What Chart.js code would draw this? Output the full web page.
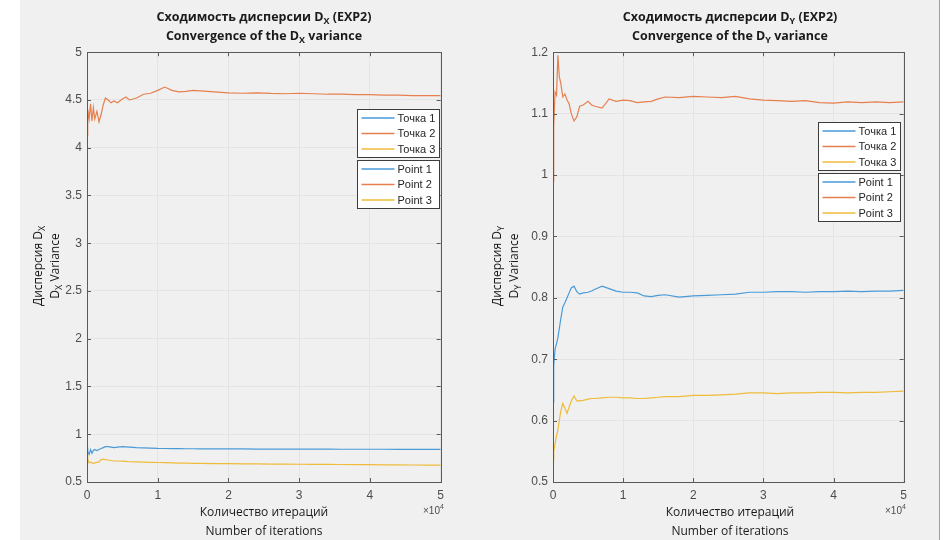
<!DOCTYPE html>
<html>
<head>
<meta charset="utf-8">
<script src="https://cdn.jsdelivr.net/npm/chart.js@4.4.1/dist/chart.umd.min.js"></script>
<style>
body{margin:0;width:949px;height:540px;overflow:hidden;background:#fff;font-family:"Open Sans","Noto Sans",sans-serif;color:#1a1a1a}
#fig{position:absolute;left:20px;top:0;width:919px;height:540px;background:#f0f0f0;border-right:1px solid #a0a0a0}
canvas{position:absolute}
.title{position:absolute;top:7px;width:360px;margin-left:-180px;text-align:center;font-weight:bold;font-size:12.5px;line-height:19px}
.xlab{position:absolute;top:502px;width:300px;margin-left:-150px;text-align:center;font-size:12px;line-height:19px}
.ylab{position:absolute;width:240px;height:36px;text-align:center;font-size:12px;line-height:17px;transform:translate(-50%,-50%) rotate(-90deg)}
.exp{position:absolute;top:505px;font-family:"Liberation Sans",sans-serif;font-size:10px;color:#4d4d4d}
sub{font-size:9px;vertical-align:baseline;position:relative;top:3px;line-height:0}
sup{font-size:7px;vertical-align:baseline;position:relative;top:-5px;line-height:0}
</style>
</head>
<body>
<div id="fig"></div>
<canvas id="chartDx" width="400" height="470" style="left:50px;top:40px"></canvas>
<canvas id="chartDy" width="400" height="470" style="left:513px;top:40px"></canvas>

<div class="title" style="left:264px">Сходимость дисперсии D<sub>X</sub> (EXP2)<br>Convergence of the D<sub>X</sub> variance</div>
<div class="title" style="left:730px">Сходимость дисперсии D<sub>Y</sub> (EXP2)<br>Convergence of the D<sub>Y</sub> variance</div>
<div class="xlab" style="left:264px">Количество итераций<br>Number of iterations</div>
<div class="xlab" style="left:730px">Количество итераций<br>Number of iterations</div>
<div class="exp" style="left:423px">×10<sup>4</sup></div>
<div class="exp" style="left:885px">×10<sup>4</sup></div>
<div class="ylab" style="left:47px;top:266px">Дисперсия D<sub>X</sub><br>D<sub>X</sub> Variance</div>
<div class="ylab" style="left:506px;top:266px">Дисперсия D<sub>Y</sub><br>D<sub>Y</sub> Variance</div>

<script>
// iteration counts where values were read
var iterations = [0, 100, 300, 500, 700, 900, 1100, 1400, 1700, 2000,
  2300, 2600, 3000, 3400, 3800, 4300, 5000, 5500, 6000, 7000,
  8000, 9000, 10000, 11000, 12000, 13000, 14000, 15000, 16000, 18000,
  20000, 22000, 24000, 26000, 28000, 30000, 32000, 34000, 36000, 38000,
  40000, 42000, 44000, 46000, 48000, 50000];

var dxPoint1 = [0.86, 0.82, 0.79, 0.84, 0.80, 0.83, 0.84, 0.83, 0.84, 0.85,
  0.86, 0.87, 0.87, 0.865, 0.86, 0.865, 0.87, 0.868, 0.865, 0.86,
  0.858, 0.855, 0.852, 0.851, 0.85, 0.849, 0.848, 0.848, 0.847, 0.847,
  0.846, 0.846, 0.845, 0.845, 0.845, 0.844, 0.844, 0.844, 0.843, 0.843,
  0.843, 0.843, 0.842, 0.842, 0.842, 0.842];
var dxPoint2 = [4.13, 4.40, 4.30, 4.46, 4.28, 4.42, 4.30, 4.38, 4.27, 4.35,
  4.45, 4.52, 4.50, 4.47, 4.49, 4.47, 4.51, 4.53, 4.50, 4.52,
  4.56, 4.57, 4.60, 4.635, 4.60, 4.585, 4.59, 4.60, 4.595, 4.585,
  4.575, 4.57, 4.575, 4.568, 4.565, 4.57, 4.565, 4.56, 4.56, 4.555,
  4.555, 4.55, 4.55, 4.545, 4.545, 4.545];
var dxPoint3 = [0.80, 0.74, 0.70, 0.71, 0.70, 0.695, 0.70, 0.705, 0.71, 0.735,
  0.74, 0.735, 0.73, 0.725, 0.72, 0.72, 0.718, 0.715, 0.712, 0.71,
  0.708, 0.706, 0.704, 0.702, 0.70, 0.698, 0.697, 0.696, 0.695, 0.693,
  0.692, 0.69, 0.689, 0.688, 0.687, 0.686, 0.685, 0.684, 0.683, 0.682,
  0.681, 0.68, 0.679, 0.678, 0.677, 0.677];

var dyPoint1 = [0.63, 0.69, 0.717, 0.725, 0.735, 0.75, 0.765, 0.785, 0.792, 0.80,
  0.808, 0.816, 0.819, 0.81, 0.806, 0.808, 0.809, 0.811, 0.814, 0.819,
  0.815, 0.811, 0.809, 0.809, 0.808, 0.803, 0.802, 0.804, 0.805, 0.801,
  0.803, 0.804, 0.805, 0.806, 0.809, 0.809, 0.81, 0.81, 0.809, 0.81,
  0.81, 0.811, 0.81, 0.811, 0.811, 0.812];
var dyPoint2 = [0.99, 1.08, 1.135, 1.13, 1.195, 1.16, 1.15, 1.127, 1.132, 1.122,
  1.116, 1.10, 1.088, 1.095, 1.112, 1.114, 1.12, 1.114, 1.112, 1.109,
  1.124, 1.12, 1.122, 1.121, 1.118, 1.119, 1.12, 1.124, 1.127, 1.126,
  1.128, 1.127, 1.126, 1.128, 1.124, 1.122, 1.121, 1.12, 1.121, 1.118,
  1.117, 1.119, 1.118, 1.119, 1.118, 1.119];
var dyPoint3 = [0.535, 0.55, 0.563, 0.575, 0.585, 0.60, 0.615, 0.628, 0.62, 0.612,
  0.622, 0.632, 0.64, 0.632, 0.632, 0.633, 0.635, 0.636, 0.636, 0.637,
  0.638, 0.638, 0.637, 0.637, 0.636, 0.636, 0.637, 0.638, 0.639, 0.639,
  0.641, 0.641, 0.642, 0.643, 0.645, 0.645, 0.644, 0.645, 0.645, 0.646,
  0.646, 0.645, 0.646, 0.646, 0.647, 0.648];

var labelsRu = ['Точка 1', 'Точка 2', 'Точка 3'];
var labelsEn = ['Point 1', 'Point 2', 'Point 3'];
var colors = ['#4a9ad8', '#e6804f', '#efbb3a'];

// matlab style box, inward ticks and the two legend boxes
const matlabBox = {
  id: 'matlabBox',
  afterDatasetsDraw: (chart, args, opts) => {
    const {ctx, chartArea: a} = chart;
    const xs = chart.scales.x, ys = chart.scales.y;
    ctx.save();
    ctx.strokeStyle = '#5a5a5a';
    ctx.lineWidth = 1;
    ctx.beginPath();
    xs.ticks.forEach((t) => {
      var px = Math.round(xs.getPixelForValue(t.value)) + 0.5;
      ctx.moveTo(px, a.bottom); ctx.lineTo(px, a.bottom - 4);
      ctx.moveTo(px, a.top); ctx.lineTo(px, a.top + 4);
    });
    ys.ticks.forEach((t) => {
      var py = Math.round(ys.getPixelForValue(t.value)) + 0.5;
      ctx.moveTo(a.left, py); ctx.lineTo(a.left + 4, py);
      ctx.moveTo(a.right, py); ctx.lineTo(a.right - 4, py);
    });
    ctx.stroke();
    ctx.strokeRect(Math.round(a.left) + 0.5, Math.round(a.top) + 0.5, Math.round(a.right - a.left), Math.round(a.bottom - a.top));

    var w = 82, rowH = 15.5, h = 48;
    var x0 = Math.round(a.right - opts.inset - w) + 0.5;
    var y0 = Math.round(a.top + opts.top) + 0.5;
    [labelsRu, labelsEn].forEach((labels, b) => {
      var by = y0 + b * (h + 3);
      ctx.fillStyle = '#fff';
      ctx.fillRect(x0, by, w, h);
      ctx.strokeStyle = '#3c3c3c';
      ctx.strokeRect(x0, by, w, h);
      labels.forEach((lab, i) => {
        var ly = by + 8.5 + i * rowH;
        ctx.strokeStyle = colors[i];
        ctx.lineWidth = 1.5;
        ctx.beginPath();
        ctx.moveTo(x0 + 4, ly); ctx.lineTo(x0 + 37, ly);
        ctx.stroke();
        ctx.lineWidth = 1;
        ctx.fillStyle = '#262626';
        ctx.font = '11px "Liberation Sans", Arial, sans-serif';
        ctx.textBaseline = 'middle';
        ctx.fillText(lab, x0 + 40, ly + 0.5);
      });
    });
    ctx.restore();
  }
};

function makeChart(id, series, yMin, yMax, yStep, legendTop, legendInset, yAxisWidth, padRight) {
  var datasets = series.map((vals, i) => ({
    label: labelsEn[i],
    data: iterations.map((it, k) => ({x: it, y: vals[k]})),
    borderColor: colors[i],
    borderWidth: 1.2,
    pointRadius: 0,
    fill: false,
    tension: 0
  }));
  new Chart(document.getElementById(id), {
    type: 'line',
    data: {datasets: datasets},
    options: {
      responsive: false,
      animation: false,
      layout: {padding: {top: 10, right: padRight, left: 0, bottom: 0}},
      plugins: {
        legend: {display: false},
        tooltip: {enabled: false},
        matlabBox: {top: legendTop, inset: legendInset}
      },
      scales: {
        x: {
          type: 'linear', min: 0, max: 50000,
          afterFit: (s) => { s.height = 28; },
          grid: {color: '#e4e4e4', drawTicks: false},
          border: {display: false},
          ticks: {stepSize: 10000, padding: 6, color: '#4d4d4d',
            font: {family: 'Liberation Sans', size: 12},
            callback: (v) => v / 10000}
        },
        y: {
          min: yMin, max: yMax,
          afterFit: (s) => { s.width = yAxisWidth; },
          grid: {color: '#e4e4e4', drawTicks: false},
          border: {display: false},
          ticks: {stepSize: yStep, padding: 5, color: '#4d4d4d',
            font: {family: 'Liberation Sans', size: 12},
            callback: (v) => String(+v.toFixed(2))}
        }
      }
    },
    plugins: [matlabBox]
  });
}

makeChart('chartDx', [dxPoint1, dxPoint2, dxPoint3], 0.5, 5, 0.5, 57, 2, 37, 9);
makeChart('chartDy', [dyPoint1, dyPoint2, dyPoint3], 0.5, 1.2, 0.1, 70, 4, 40, 7);
</script>
</body>
</html>
